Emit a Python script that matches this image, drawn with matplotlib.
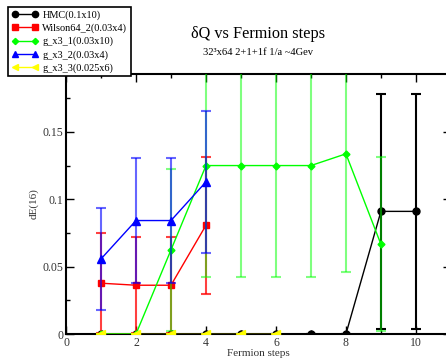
import numpy as np
import matplotlib
matplotlib.use("Agg")
import matplotlib.pyplot as plt
from matplotlib.lines import Line2D
from matplotlib.ticker import MultipleLocator

plt.rcParams['font.family'] = ['Liberation Serif', 'DejaVu Serif']

# HMC(0.1x10)
hmc_x = [1, 2, 3, 4, 5, 6, 7, 8, 9, 10]
hmc_y = [0, 0, 0, 0, 0, 0, 0, 0, 0.091, 0.091]
hmc_err = [0, 0, 0, 0, 0, 0, 0, 0, 0.087, 0.087]

# Wilson64_2(0.03x4)
wil_x = [1, 2, 3, 4]
wil_y = [0.0377, 0.0362, 0.0362, 0.0807]
wil_err = [0.037, 0.0356, 0.0356, 0.051]

# g_x3_1(0.03x10)
g1_x = [1, 2, 3, 4, 5, 6, 7, 8, 9]
g1_y = [0, 0, 0.0624, 0.125, 0.125, 0.125, 0.125, 0.1337, 0.0666]
g1_err = [0, 0, 0.0604, 0.0824, 0.0824, 0.0824, 0.0824, 0.088, 0.0644]

# g_x3_2(0.03x4)
g2_x = [1, 2, 3, 4]
g2_y = [0.0557, 0.0842, 0.0842, 0.1129]
g2_err = [0.038, 0.0465, 0.0465, 0.0528]

# g_x3_3(0.025x6)
g3_x = [1, 2, 3, 4, 5, 6]
g3_y = [0, 0, 0, 0, 0, 0]
g3_err = [0, 0, 0, 0, 0, 0]

fig = plt.figure(figsize=(4.46, 3.59), dpi=100)
ax = fig.add_axes([0.148, 0.0696, 0.863, 0.7245])

# x, y, err, colour, marker, size, errorbar alpha, label
series = [
    (hmc_x, hmc_y, hmc_err, 'black', 'o', 5, 1.0, 'HMC(0.1x10)'),
    (wil_x, wil_y, wil_err, 'red', 's', 4.5, 0.75, 'Wilson64_2(0.03x4)'),
    (g1_x, g1_y, g1_err, '#00ff00', 'D', 3.5, 0.5, 'g_x3_1(0.03x10)'),
    (g2_x, g2_y, g2_err, 'blue', '^', 5.5, 0.6, 'g_x3_2(0.03x4)'),
    (g3_x, g3_y, g3_err, '#ffff00', '<', 5.5, 0.6, 'g_x3_3(0.025x6)'),
]
handles = []
for i, (x, y, e, c, m, ms, a, lab) in enumerate(series):
    eb = ax.errorbar(x, y, yerr=e, color=c, marker=m, markersize=ms, lw=1,
                     elinewidth=1.5, capsize=3.5, capthick=1.5, ecolor=c,
                     zorder=3 + i)
    for bar in eb[2]:
        bar.set_alpha(a)
    for cap in eb[1]:
        cap.set_alpha(a)
    handles.append(Line2D([], [], color=c, marker=m, markersize=ms * 0.9,
                          lw=1, label=lab))

ax.set_xlim(0, 11)
ax.set_ylim(0, 0.193)
ax.xaxis.set_major_locator(MultipleLocator(2))
ax.xaxis.set_minor_locator(MultipleLocator(1))
ax.yaxis.set_major_locator(MultipleLocator(0.05))
ax.yaxis.set_minor_locator(MultipleLocator(0.025))
ax.set_yticks([0, 0.05, 0.1, 0.15])
ax.set_yticklabels(['0', '0.05', '0.1', '0.15'])
ax.tick_params(which='both', direction='in', top=True, right=True,
               labelsize=8.5, labelcolor='#333333', width=1, pad=2)
ax.tick_params(which='major', length=6)
ax.tick_params(which='minor', length=3)
for s in ax.spines.values():
    s.set_linewidth(1.5)

ax.set_xlabel('Fermion steps', fontsize=8, color='#333333', labelpad=0)
ax.set_ylabel('dE(16)', fontsize=8, color='#333333', labelpad=3)

fig.text(0.578, 0.905, 'δQ vs Fermion steps', ha='center', va='center', fontsize=11.7)
fig.text(0.578, 0.855, '32³x64 2+1+1f 1/a ~4Gev', ha='center', va='center', fontsize=7.6)

leg = fig.legend(handles=handles, loc='upper left', bbox_to_anchor=(0.018, 0.981),
                 fontsize=7.4, numpoints=2, handlelength=2.6, handletextpad=0.4,
                 labelspacing=0.35, borderpad=0.35, borderaxespad=0,
                 fancybox=False, framealpha=1, edgecolor='black')
leg.get_frame().set_linewidth(1.2)

fig.savefig('out.png', dpi=100)
